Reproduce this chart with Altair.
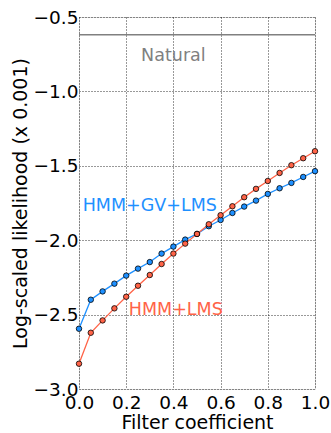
import altair as alt
import pandas as pd

coef = [0.00, 0.05, 0.10, 0.15, 0.20, 0.25, 0.30, 0.35, 0.40, 0.45, 0.50,
        0.55, 0.60, 0.65, 0.70, 0.75, 0.80, 0.85, 0.90, 0.95, 1.00]
hmm_gv_lms = [-2.595, -2.400, -2.344, -2.292, -2.238, -2.191, -2.147, -2.090, -2.043, -1.996, -1.958,
              -1.906, -1.864, -1.817, -1.774, -1.734, -1.689, -1.651, -1.615, -1.575, -1.536]
hmm_lms = [-2.830, -2.622, -2.539, -2.458, -2.380, -2.306, -2.234, -2.160, -2.090, -2.023, -1.958,
           -1.893, -1.832, -1.772, -1.711, -1.655, -1.602, -1.548, -1.496, -1.449, -1.402]
natural = -0.62

label_names = ["Natural", "HMM+GV+LMS", "HMM+LMS"]
label_x = [0.40, 0.30, 0.41]
label_y = [-0.76, -1.77, -2.47]
label_colors = ["#808080", "#1e90ff", "#ff6347"]

BLUE = "#1e90ff"
RED = "#ff6347"

df = pd.DataFrame({"x": coef * 2,
                   "y": hmm_gv_lms + hmm_lms,
                   "s": ["HMM+GV+LMS"] * len(coef) + ["HMM+LMS"] * len(coef)})
lab = pd.DataFrame({"t": label_names, "x": label_x, "y": label_y, "c": label_colors})
nat = pd.DataFrame({"y": [natural]})

xs = alt.Scale(domain=[0, 1], nice=False, zero=False)
ys = alt.Scale(domain=[-3.0, -0.5], nice=False, zero=False)
cs = alt.Scale(domain=["HMM+GV+LMS", "HMM+LMS"], range=[BLUE, RED])

common = dict(grid=True, gridColor="black", gridDash=[1, 2], gridOpacity=0.8,
              ticks=False, domain=False, labelFontSize=18.5, titleFontSize=19,
              labelColor="black", titleColor="black",
              labelFont="DejaVu Sans", titleFont="DejaVu Sans", titleFontWeight="normal",
              labelFlush=False)
xax = alt.Axis(title="Filter coefficient", values=[0, 0.2, 0.4, 0.6, 0.8, 1.0], format=".1f",
               labelPadding=4, titlePadding=2, **common)
yax = alt.Axis(title="Log-scaled likelihood (x 0.001)", values=[-3.0, -2.5, -2.0, -1.5, -1.0, -0.5],
               format=".1f", labelPadding=1, titlePadding=3, **common)

base = alt.Chart(df)
lines = base.mark_line(strokeWidth=1.3).encode(
    x=alt.X("x:Q", scale=xs, axis=xax),
    y=alt.Y("y:Q", scale=ys, axis=yax),
    color=alt.Color("s:N", scale=cs, legend=None),
)
points = base.mark_point(filled=True, size=30, stroke="black", strokeWidth=0.8, opacity=1).encode(
    x="x:Q", y="y:Q",
    fill=alt.Fill("s:N", scale=cs, legend=None),
)
natline = alt.Chart(nat).mark_rule(color="#808080", strokeWidth=1.5).encode(y="y:Q")
texts = alt.Chart(lab).mark_text(fontSize=17.5, font="DejaVu Sans", align="center", baseline="middle").encode(
    x="x:Q", y="y:Q", text="t:N", color=alt.Color("c:N", scale=None),
)

chart = alt.layer(natline, lines, points, texts).properties(
    width=236, height=372,
    autosize=alt.AutoSizeParams(type="none"),
    padding={"left": 79, "top": 17, "right": 16, "bottom": 44},
).configure_view(stroke="black", strokeWidth=1.2).configure(background="white")

chart.save("out.html", embed_options={"renderer": "svg", "actions": False})
